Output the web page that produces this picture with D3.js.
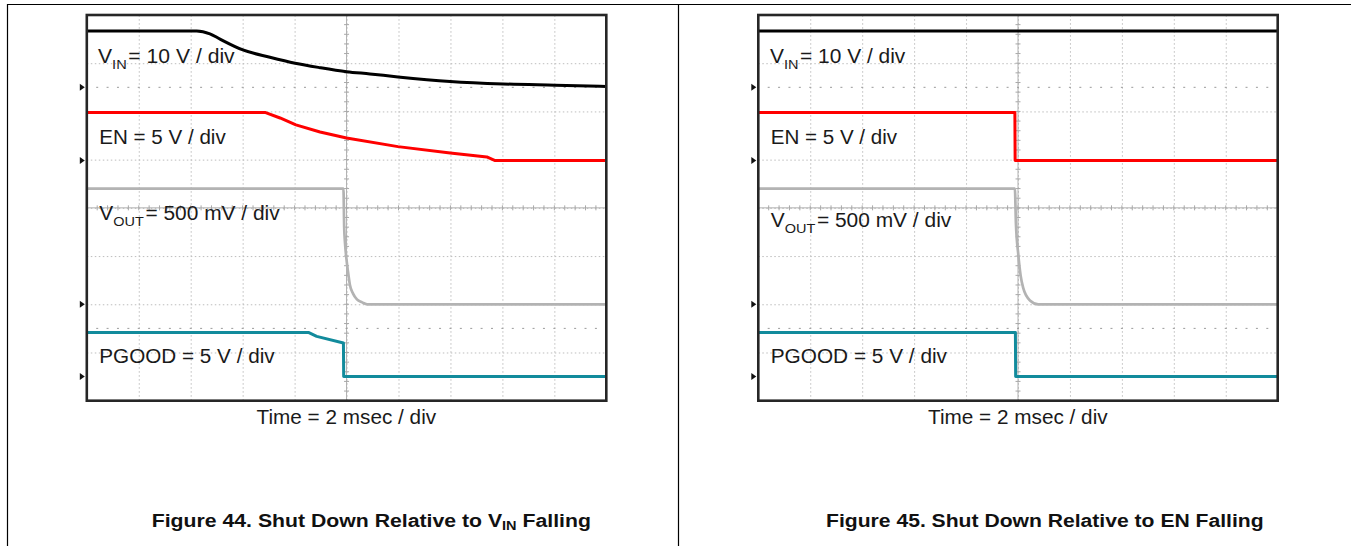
<!DOCTYPE html>
<html>
<head>
<meta charset="utf-8">
<script src="https://cdn.jsdelivr.net/npm/d3@7"></script>
<style>
  html, body { margin: 0; padding: 0; background: #fff; }
  svg { display: block; }
  text { font-family: "Liberation Sans", Arial, Helvetica, sans-serif; }
</style>
</head>
<body>
<svg id="chart" width="1351" height="546"></svg>
<script>
// ---------------- DATA (time in ms, values in volts) ----------------
const timeDomainMs = [0, 20];          // 2 ms / div, 10 divisions
const screenDivs = [-4, 4];            // 8 vertical divisions
const channelNames = ["VIN", "EN", "VOUT", "PGOOD"];
const channelVoltsPerDiv = [10, 5, 0.5, 5];
const channelOffsetDiv = [2.5, 0.98, -2.0, -3.5];
const channelLabelMain = ["V", "EN = 5 V / div", "V", "PGOOD = 5 V / div"];
const channelLabelSub = ["IN", "", "OUT", ""];
const channelLabelRest = ["= 10 V / div", "", "= 500 mV / div", ""];
const timeLabel = "Time = 2 msec / div";
const captionTexts = [
  ["Figure 44. Shut Down Relative to V", "IN", " Falling"],
  ["Figure 45. Shut Down Relative to EN Falling", "", ""]
];

// Figure 44 : shut down relative to VIN falling
const fig44VinTime  = [0, 4.23, 4.74, 5.13, 6.01, 7.05, 8.02, 8.98, 10.0, 10.9, 11.98, 13.99, 16.03, 18.03, 20];
const fig44VinVolts = [11.7, 11.7, 11.1, 10.0, 7.75, 6.24, 5.0, 4.08, 3.25, 2.78, 2.16, 1.22, 0.7, 0.44, 0.18];
const fig44EnTime   = [0, 6.86, 7.44, 8.05, 8.98, 10.0, 11.98, 13.99, 15.4, 15.72, 20];
const fig44EnVolts  = [5.0, 5.0, 4.42, 3.7, 2.97, 2.35, 1.45, 0.8, 0.38, 0, 0];
const fig44VoutTime  = [0, 9.88, 9.91, 9.94, 10.0, 10.06, 10.13, 10.25, 10.4, 10.6, 10.79, 20];
const fig44VoutVolts = [1.2, 1.2, 0.79, 0.64, 0.46, 0.33, 0.2, 0.11, 0.05, 0.02, 0, 0];
const fig44PgoodTime  = [0, 8.53, 8.85, 9.88, 9.89, 20];
const fig44PgoodVolts = [4.58, 4.58, 4.17, 3.48, 0, 0];

// Figure 45 : shut down relative to EN falling
const fig45VinTime  = [0, 20];
const fig45VinVolts = [11.7, 11.7];
const fig45EnTime   = [0, 9.88, 9.89, 20];
const fig45EnVolts  = [5.0, 5.0, 0, 0];
const fig45VoutTime  = [0, 9.88, 9.92, 10.01, 10.1, 10.2, 10.46, 10.78, 20];
const fig45VoutVolts = [1.2, 1.2, 0.84, 0.52, 0.3, 0.17, 0.04, 0, 0];
const fig45PgoodTime  = [0, 9.9, 9.91, 20];
const fig45PgoodVolts = [4.58, 4.58, 0, 0];

// ---------------- LAYOUT ----------------
const svg = d3.select("#chart");
const W = 1351, H = 546;
const channelColors = ["#000000", "#ff0000", "#b3b3b3", "#128b9c"];
const channelCurves = [d3.curveMonotoneX, d3.curveLinear, d3.curveMonotoneX, d3.curveLinear];

const panels = [
  {
    frame: {x0: 86.8, x1: 606.3, y0: 15, y1: 400.7},
    traces: [[fig44VinTime, fig44VinVolts], [fig44EnTime, fig44EnVolts],
             [fig44VoutTime, fig44VoutVolts], [fig44PgoodTime, fig44PgoodVolts]],
    labels: [
      {x: 98, y: 63, w: 137}, {x: 99.3, y: 144, w: 126.7},
      {x: 99.3, y: 220, w: 180.7}, {x: 99.3, y: 363.3, w: 175.7}
    ],
    time: {cx: 346.5, y: 423.5, w: 180},
    caption: {x: 151.7, y: 526.7, w: 439.5}
  },
  {
    frame: {x0: 758.3, x1: 1277.7, y0: 15, y1: 400.7},
    traces: [[fig45VinTime, fig45VinVolts], [fig45EnTime, fig45EnVolts],
             [fig45VoutTime, fig45VoutVolts], [fig45PgoodTime, fig45PgoodVolts]],
    labels: [
      {x: 770, y: 63, w: 135.7}, {x: 770.7, y: 144, w: 126.6},
      {x: 770.7, y: 227.3, w: 181}, {x: 770.7, y: 363.3, w: 176.6}
    ],
    time: {cx: 1018, y: 423.5, w: 180},
    caption: {x: 826, y: 526.7, w: 438}
  }
];

// page rules
svg.append("line").attr("x1", 7).attr("x2", W).attr("y1", 4.5).attr("y2", 4.5)
  .attr("stroke", "#000").attr("stroke-width", 1.2);
svg.append("line").attr("x1", 7.5).attr("x2", 7.5).attr("y1", 4).attr("y2", H)
  .attr("stroke", "#000").attr("stroke-width", 1.2);
svg.append("line").attr("x1", 678.5).attr("x2", 678.5).attr("y1", 4).attr("y2", H)
  .attr("stroke", "#000").attr("stroke-width", 1.2);

function fitGroup(g, x, y, targetW, anchor) {
  const bb = g.node().getBBox();
  const s = targetW / bb.width;
  const tx = anchor === "middle" ? x - targetW / 2 : x;
  g.attr("transform", `translate(${tx},${y}) scale(${s},1) translate(${-bb.x},0)`);
}

panels.forEach((p, pi) => {
  const f = p.frame;
  const x = d3.scaleLinear().domain(timeDomainMs).range([f.x0, f.x1]);
  const y = d3.scaleLinear().domain(screenDivs).range([f.y1, f.y0]);
  const g = svg.append("g");

  // grid via axes
  const gridX = d3.axisBottom(x).tickValues(d3.range(2, 20, 2)).tickSize(-(f.y1 - f.y0)).tickFormat("");
  const gridY = d3.axisLeft(y).tickValues(d3.range(-3, 4, 1)).tickSize(-(f.x1 - f.x0)).tickFormat("");
  const gx = g.append("g").attr("transform", `translate(0,${f.y1})`).call(gridX);
  const gy = g.append("g").attr("transform", `translate(${f.x0},0)`).call(gridY);
  [gx, gy].forEach(a => {
    a.select(".domain").remove();
    a.selectAll(".tick line").attr("stroke", "#bdbdbd").attr("stroke-width", 1)
      .attr("stroke-dasharray", "1.5,2.5");
  });
  // solid center lines
  g.append("line").attr("x1", f.x0).attr("x2", f.x1).attr("y1", y(0)).attr("y2", y(0))
    .attr("stroke", "#b0b0b0").attr("stroke-width", 1);
  g.append("line").attr("x1", x(10)).attr("x2", x(10)).attr("y1", f.y0).attr("y2", f.y1)
    .attr("stroke", "#b0b0b0").attr("stroke-width", 1);
  // minor ticks on center crosshair
  const minorT = d3.range(0.4, 20, 0.4);
  g.selectAll(null).data(minorT).join("line")
    .attr("x1", d => x(d)).attr("x2", d => x(d))
    .attr("y1", y(0) - 2.5).attr("y2", y(0) + 2.5)
    .attr("stroke", "#a8a8a8").attr("stroke-width", 1);
  const minorD = d3.range(-3.8, 4, 0.2);
  g.selectAll(null).data(minorD).join("line")
    .attr("y1", d => y(d)).attr("y2", d => y(d))
    .attr("x1", x(10) - 2.5).attr("x2", x(10) + 2.5)
    .attr("stroke", "#a8a8a8").attr("stroke-width", 1);
  // dotted tick rows at +/-2.5 div
  [2.5, -2.5].forEach(dv => {
    g.selectAll(null).data(minorT).join("line")
      .attr("x1", d => x(d) - 1).attr("x2", d => x(d) + 1)
      .attr("y1", y(dv)).attr("y2", y(dv))
      .attr("stroke", "#9a9a9a").attr("stroke-width", 1);
  });

  // traces
  p.traces.forEach((tr, ci) => {
    const [ts, vs] = tr;
    const pts = ts.map((t, i) => [t, vs[i]]);
    const line = d3.line()
      .x(d => x(d[0]))
      .y(d => y(channelOffsetDiv[ci] + d[1] / channelVoltsPerDiv[ci]))
      .curve(channelCurves[ci]);
    g.append("path").datum(pts).attr("d", line)
      .attr("fill", "none").attr("stroke", channelColors[ci])
      .attr("stroke-width", ci === 2 ? 2.7 : 3).attr("stroke-linejoin", "round");
  });

  // channel labels
  p.labels.forEach((lb, ci) => {
    const tg = g.append("g");
    const t = tg.append("text").attr("x", 0).attr("y", 0)
      .attr("font-size", 19.5).attr("fill", "#1a1a1a");
    t.append("tspan").text(channelLabelMain[ci]);
    if (channelLabelSub[ci]) {
      t.append("tspan").attr("font-size", 13.5).attr("dy", 5.5).text(channelLabelSub[ci]);
      t.append("tspan").attr("dy", -5.5).attr("dx", 1.5).text(channelLabelRest[ci]);
    }
    fitGroup(tg, lb.x, lb.y, lb.w, "start");
  });

  // frame
  g.append("rect").attr("x", f.x0).attr("y", f.y0)
    .attr("width", f.x1 - f.x0).attr("height", f.y1 - f.y0)
    .attr("fill", "none").attr("stroke", "#262626").attr("stroke-width", 2.6);

  // channel ground markers
  channelOffsetDiv.forEach(od => {
    const yy = y(od);
    g.append("path")
      .attr("d", d3.line()([[f.x0 - 7, yy - 3.5], [f.x0 - 2, yy], [f.x0 - 7, yy + 3.5]]) + "Z")
      .attr("fill", "#111");
  });

  // time label
  const tg = g.append("g");
  tg.append("text").attr("font-size", 19.5).attr("fill", "#1a1a1a").text(timeLabel);
  fitGroup(tg, p.time.cx, p.time.y, p.time.w, "middle");

  // caption
  const cg = g.append("g");
  const ct = cg.append("text").attr("font-size", 19).attr("font-weight", "bold").attr("fill", "#111");
  const cap = captionTexts[pi];
  ct.append("tspan").text(cap[0]);
  if (cap[1]) {
    ct.append("tspan").attr("font-size", 13).attr("dy", 3.5).text(cap[1]);
    ct.append("tspan").attr("dy", -3.5).text(cap[2]);
  }
  fitGroup(cg, p.caption.x, p.caption.y, p.caption.w, "start");
});
</script>
</body>
</html>
